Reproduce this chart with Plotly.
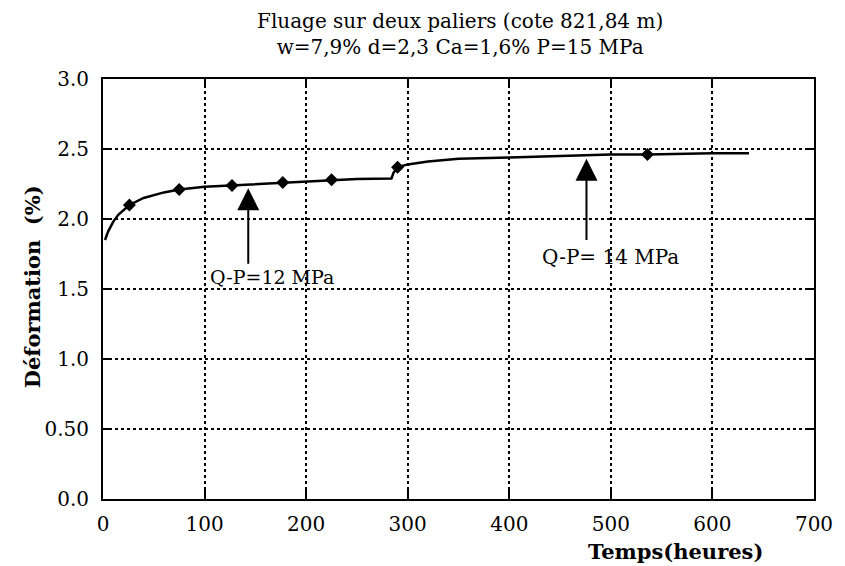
import plotly.graph_objects as go

# courbe de fluage
temps = [2, 5, 10, 15, 26, 40, 60, 75, 100, 127, 150, 177, 200, 225, 250, 284, 286,
         290, 300, 320, 350, 400, 450, 500, 536, 600, 636]
deform = [1.85, 1.91, 1.98, 2.03, 2.10, 2.15, 2.19, 2.21, 2.23, 2.24, 2.25, 2.26, 2.27,
          2.28, 2.285, 2.29, 2.33, 2.37, 2.39, 2.41, 2.43, 2.44, 2.45, 2.46, 2.46, 2.47, 2.47]

# points de mesure
pts_t = [26, 75, 127, 177, 225, 290, 536]
pts_d = [2.10, 2.21, 2.24, 2.26, 2.28, 2.37, 2.46]

x_ticks = [0, 100, 200, 300, 400, 500, 600, 700]
y_ticks = [0, 0.5, 1.0, 1.5, 2.0, 2.5, 3.0]
y_labels = ["0.0", "0.50", "1.0", "1.5", "2.0", "2.5", "3.0"]

serif = "DejaVu Serif, serif"

fig = go.Figure()
fig.add_trace(go.Scatter(x=temps, y=deform, mode="lines",
                         line=dict(color="black", width=2.5), showlegend=False))
fig.add_trace(go.Scatter(x=pts_t, y=pts_d, mode="markers",
                         marker=dict(symbol="diamond", size=10, color="black"),
                         showlegend=False))

# la page html ajoute une marge de 8 px autour de la figure
fig.update_layout(
    width=837, height=558,
    margin=dict(l=95, r=21, t=71, b=67),
    plot_bgcolor="white", paper_bgcolor="white",
    font=dict(family=serif, size=20, color="black"),
)

fig.update_xaxes(range=[0, 700], tickvals=x_ticks, showline=True, linecolor="black",
                 linewidth=2, mirror="ticks", ticks="inside", ticklen=9, tickwidth=1.5,
                 tickcolor="black", showgrid=True, gridcolor="black", griddash="dot",
                 gridwidth=1.5, zeroline=False, ticklabelstandoff=6)
fig.update_yaxes(range=[0, 3.0], tickvals=y_ticks, ticktext=y_labels, showline=True,
                 linecolor="black", linewidth=2, mirror="ticks", ticks="inside",
                 ticklen=9, tickwidth=1.5, tickcolor="black", showgrid=True,
                 gridcolor="black", griddash="dot", gridwidth=1.5, zeroline=False,
                 ticklabelstandoff=8)

# titre sur deux lignes
fig.add_annotation(xref="paper", yref="paper", x=0.502, y=1.169, xanchor="center",
                   yanchor="top", borderpad=0,
                   text="Fluage sur deux paliers (cote 821,84 m)<br>w=7,9% d=2,3 Ca=1,6% P=15 MPa",
                   showarrow=False, font=dict(family=serif, size=20))

# fleches des paliers
fig.add_annotation(x=143, y=2.22, ax=143, ay=1.67, axref="x", ayref="y", text="",
                   showarrow=True, arrowhead=2, arrowsize=2.2, arrowwidth=2,
                   arrowcolor="black")
fig.add_annotation(x=476, y=2.43, ax=476, ay=1.84, axref="x", ayref="y", text="",
                   showarrow=True, arrowhead=2, arrowsize=2.2, arrowwidth=2,
                   arrowcolor="black")
fig.add_annotation(x=166, y=1.585, text="Q-P=12 MPa", showarrow=False,
                   font=dict(family=serif, size=19))
fig.add_annotation(x=500, y=1.73, text="Q-P= 14 MPa", showarrow=False,
                   font=dict(family=serif, size=20))

# titres des axes
fig.add_annotation(xref="paper", yref="paper", x=0.805, y=-0.124, xanchor="center",
                   yanchor="middle", text="<b>Temps(heures)</b>", showarrow=False,
                   font=dict(family=serif, size=21))
fig.add_annotation(xref="paper", yref="paper", x=-0.098, y=0.505, xanchor="center",
                   yanchor="middle", text="<b>Déformation  (%)</b>", textangle=-90,
                   showarrow=False, font=dict(family=serif, size=21))

fig.write_html("out.html")
